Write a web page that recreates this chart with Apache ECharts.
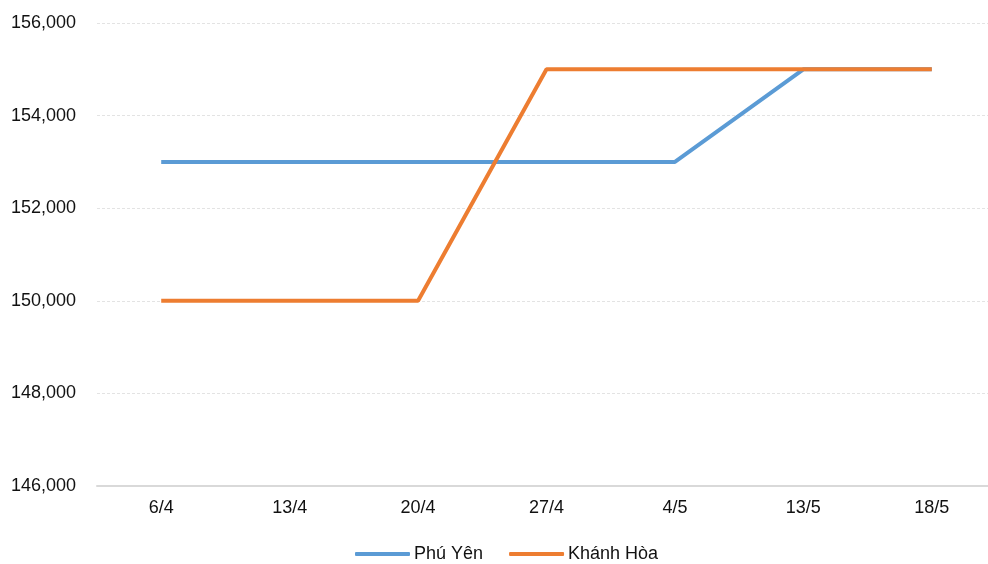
<!DOCTYPE html>
<html><head><meta charset="utf-8">
<script src="https://cdn.jsdelivr.net/npm/echarts@6/dist/echarts.min.js"></script>
<style>html,body{margin:0;padding:0;background:#fff;overflow:hidden}#c{width:1000px;height:564px}</style>
</head><body><div id="c"></div>
<script>
var categories = ['6/4','13/4','20/4','27/4','4/5','13/5','18/5'];
var phuYen = [153000,153000,153000,153000,153000,155000,155000];
var khanhHoa = [150000,150000,150000,155000,155000,155000,155000];
var seriesNames = ['Phú Yên','Khánh Hòa'];
var chart = echarts.init(document.getElementById('c'));
var font = 'Liberation Sans, Arial, sans-serif';
chart.setOption({
  animation:false,
  textStyle:{fontFamily:font},
  grid:{left:97,top:23,width:899,bottom:78,containLabel:false},
  legend:{
    top:540,left:350,
    itemWidth:55,itemHeight:4,itemGap:26,
    icon:'roundRect',
    textStyle:{fontFamily:font,fontSize:18,color:'#111',padding:[0,0,0,-1]},
    data:seriesNames
  },
  xAxis:{
    type:'category',data:categories,boundaryGap:true,
    axisLine:{lineStyle:{color:'#d9d9d9',width:2}},
    axisTick:{show:false},
    axisLabel:{fontFamily:font,fontSize:18,color:'#111',margin:13}
  },
  yAxis:{
    type:'value',min:146000,max:156000,interval:2000,
    axisLine:{show:false},axisTick:{show:false},
    splitLine:{lineStyle:{color:'#e3e3e3',type:[3,2],width:1}},
    axisLabel:{fontFamily:font,fontSize:18,color:'#111',margin:21,
      formatter:function(v){return v.toLocaleString('en-US');}}
  },
  series:[
    {name:seriesNames[0],type:'line',data:phuYen,symbol:'none',
     lineStyle:{color:'#5B9BD5',width:4},itemStyle:{color:'#5B9BD5'}},
    {name:seriesNames[1],type:'line',data:khanhHoa,symbol:'none',
     lineStyle:{color:'#ED7D31',width:4},itemStyle:{color:'#ED7D31'}}
  ]
});
</script></body></html>
